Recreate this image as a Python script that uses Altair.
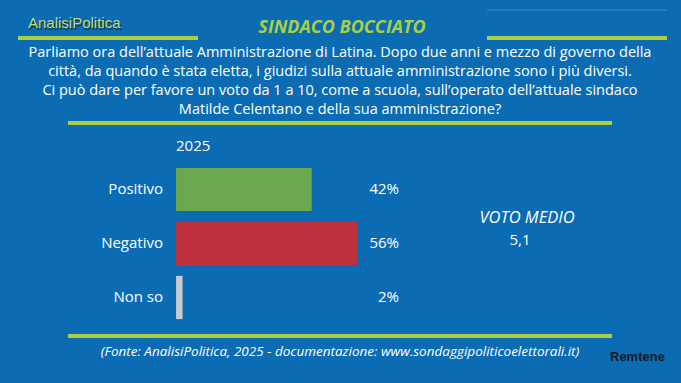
import altair as alt
import pandas as pd

# Survey answers
categories = ["Positivo", "Negativo", "Non so"]
values = [42, 56, 2]
bar_colors = ["#6aa84f", "#c1303f", "#c9cbce"]
value_labels = ["42%", "56%", "2%"]
year_label = "2025"

title = "SINDACO BOCCIATO"
question = [
    "Parliamo ora dell\u2019attuale Amministrazione di Latina. Dopo due anni e mezzo di governo della",
    "citt\u00e0, da quando \u00e8 stata eletta, i giudizi sulla attuale amministrazione sono i pi\u00f9 diversi.",
    "Ci pu\u00f2 dare per favore un voto da 1 a 10, come a scuola, sull\u2019operato dell\u2019attuale sindaco",
    "Matilde Celentano e della sua amministrazione?",
]
avg_title = "VOTO MEDIO"
avg_value = "5,1"
source = "(Fonte: AnalisiPolitica, 2025 - documentazione: www.sondaggipoliticoelettorali.it)"

W, H = 681, 383
BG = "#0b6cb4"
LIME = "#a9cf45"
FONT = "Open Sans"

df = pd.DataFrame({
    "cat": categories,
    "val": values,
    "color": bar_colors,
    "label": value_labels,
    "idx": list(range(len(categories))),
})

xs = alt.Scale(domain=[-54.5, 156.3], nice=False, zero=False)
ys = alt.Scale(domain=[-3.509, 3.584], nice=False, zero=False, reverse=True)

base = alt.Chart(df).transform_calculate(
    y0="datum.idx - 0.4", y1="datum.idx + 0.4", zero="0"
)

bars = base.mark_rect().encode(
    x=alt.X("zero:Q", scale=xs, axis=None),
    x2="val:Q",
    y=alt.Y("y0:Q", scale=ys, axis=None),
    y2="y1:Q",
    color=alt.Color("color:N", scale=None, legend=None),
)

cat_text = base.mark_text(align="right", baseline="middle", font=FONT, fontSize=15, color="white").encode(
    x=alt.value(163),
    y=alt.Y("idx:Q", scale=ys, axis=None),
    text="cat:N",
)

val_text = base.mark_text(align="right", baseline="middle", font=FONT, fontSize=15, color="white").encode(
    x=alt.value(399),
    y=alt.Y("idx:Q", scale=ys, axis=None),
    text="label:N",
)


def label(text, x, y, size, color="white", align="center", weight="normal", style="normal", font=FONT):
    return alt.Chart(pd.DataFrame({"t": [text]})).mark_text(
        align=align, baseline="middle", font=font, fontSize=size, color=color,
        fontWeight=weight, fontStyle=style,
    ).encode(x=alt.value(x), y=alt.value(y), text="t:N")


def line(x1, x2, y, width=4, color=LIME, opacity=1.0):
    return alt.Chart(pd.DataFrame({"a": [0]})).mark_rule(
        color=color, strokeWidth=width, opacity=opacity
    ).encode(x=alt.value(x1), x2=alt.value(x2), y=alt.value(y))


layers = [
    line(18, 198, 38),
    line(487, 667, 38),
    line(487, 667, 10, width=1, color="#5a9fd6", opacity=0.6),
    line(68, 612, 123),
    line(68, 612, 336),
    label("AnalisiPolitica", 29.5, 24.5, 15, color="#1d3b2a", align="left", font="Liberation Sans"),
    label("AnalisiPolitica", 28, 23, 15, color="#bcd98a", align="left", font="Liberation Sans"),
    label(title, 342, 28, 18, color=LIME, weight="bold", style="italic"),
]
for i, q in enumerate(question):
    layers.append(label(q, 340, 53 + i * 19, 14.5))
layers += [
    label(year_label, 176, 146, 15, align="left"),
    bars, cat_text, val_text,
    label(avg_title, 527, 218, 16.5, style="italic"),
    label(avg_value, 520, 240, 15),
    label(source, 340, 352, 13.5, style="italic"),
    label("Remtene", 610, 357, 13, color="#1a1a1a", align="left", weight="bold", font="Liberation Sans"),
]

chart = alt.layer(*layers).properties(
    width=W, height=H, padding=0, autosize=alt.AutoSizeParams(type="none"),
    background=BG,
).configure_view(stroke=None)

chart.save("out.html", embed_options={"renderer": "svg", "actions": False})
